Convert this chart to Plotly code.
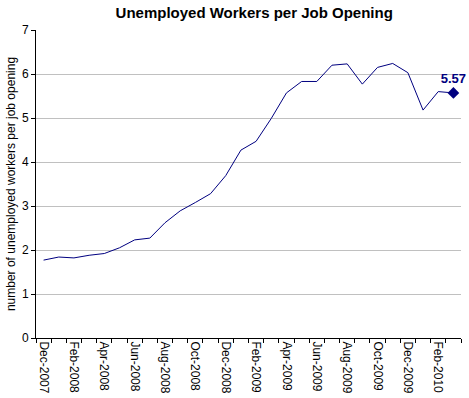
import plotly.graph_objects as go

months = ["Dec-2007", "Jan-2008", "Feb-2008", "Mar-2008", "Apr-2008", "May-2008", "Jun-2008",
          "Jul-2008", "Aug-2008", "Sep-2008", "Oct-2008", "Nov-2008", "Dec-2008", "Jan-2009",
          "Feb-2009", "Mar-2009", "Apr-2009", "May-2009", "Jun-2009", "Jul-2009", "Aug-2009",
          "Sep-2009", "Oct-2009", "Nov-2009", "Dec-2009", "Jan-2010", "Feb-2010", "Mar-2010"]
ratio = [1.77, 1.84, 1.82, 1.88, 1.92, 2.05, 2.23, 2.27, 2.62, 2.89, 3.08, 3.28, 3.69, 4.27,
         4.47, 4.99, 5.57, 5.83, 5.83, 6.20, 6.23, 5.77, 6.15, 6.24, 6.03, 5.18, 5.60, 5.57]

idx = list(range(len(months)))
label_idx = idx[::2]
label_text = months[::2]

navy = "#000080"
font = "Liberation Sans, Arial, sans-serif"

fig = go.Figure()
fig.add_trace(go.Scatter(x=idx, y=ratio, mode="lines", customdata=months,
                         hovertemplate="%{customdata}: %{y}<extra></extra>",
                         line=dict(color=navy, width=1)))
fig.add_trace(go.Scatter(x=[idx[-1]], y=[ratio[-1]], mode="markers+text",
                         marker=dict(symbol="diamond", size=9, color=navy),
                         text=[f"{ratio[-1]:.2f}"], textposition="top center",
                         cliponaxis=False, hoverinfo="skip",
                         textfont=dict(family=font, size=13, color=navy, weight="bold")))

fig.update_layout(
    width=469, height=398,
    margin=dict(l=36, r=8, t=30, b=60),
    paper_bgcolor="white", plot_bgcolor="white",
    showlegend=False,
    font=dict(family=font, size=12, color="black"),
    title=dict(text="<b>Unemployed Workers per Job Opening</b>", x=0.542, xanchor="center",
               y=0.98, yanchor="top", font=dict(family=font, size=15, color="black")),
)
fig.update_xaxes(range=[-0.5, len(months) - 0.5], tickmode="array",
                 tickvals=label_idx, ticktext=label_text, ticks="", tickangle=90,
                 minor=dict(ticks="outside", ticklen=4, tickcolor="black",
                            tick0=-0.5, dtick=1, showgrid=False),
                 showline=True, linecolor="black", linewidth=1,
                 showgrid=False, zeroline=False, automargin=False,
                 tickfont=dict(family=font, size=12))
fig.update_yaxes(range=[0, 7], dtick=1, ticks="outside", ticklen=4, tickcolor="black",
                 showline=True, linecolor="black", linewidth=1,
                 showgrid=True, gridcolor="#c0c0c0", gridwidth=1, zeroline=False,
                 automargin=False,
                 tickfont=dict(family=font, size=12),
                 title=dict(text="number of unemployed workers per job opening",
                            font=dict(family=font, size=12), standoff=3))

fig.write_html("out.html", config={"displayModeBar": False})

# remove the browser's default page margin so the figure sits at the window's top-left
with open("out.html", encoding="utf-8") as f:
    html = f.read()
html = html.replace("<body>", '<body style="margin:0;padding:0;overflow:hidden">', 1)
with open("out.html", "w", encoding="utf-8") as f:
    f.write(html)
